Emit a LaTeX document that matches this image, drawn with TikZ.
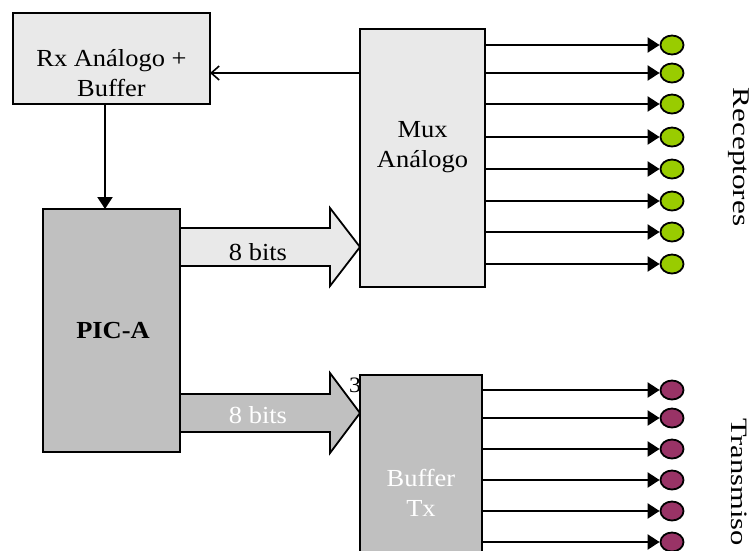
\documentclass[tikz,border=0pt]{standalone}
\usepackage{fontspec}
\setmainfont{Liberation Serif}[FakeStretch=1.08]
\newfontfamily\sidefont{Liberation Serif}[FakeStretch=1.3]
\usetikzlibrary{arrows.meta,shapes.geometric}
\definecolor{lightbox}{HTML}{E9E9E9}
\definecolor{darkbox}{HTML}{C0C0C0}
\definecolor{rxgreen}{HTML}{99CC00}
\definecolor{txpurple}{HTML}{993366}
\begin{document}
\begin{tikzpicture}[x=1pt,y=-1pt,
  box/.style={draw=black, line width=2pt, inner sep=0pt, outer sep=0pt},
  lbl/.style={font=\fontsize{24.5}{30}\selectfont, align=center, inner sep=0pt},
  conn/.style={draw=black, line width=2.2pt},
  blockarrow/.style={draw=black, line width=1.8pt},
  rcirc/.style={ellipse, draw=black, line width=1.8pt, fill=rxgreen, minimum width=23pt, minimum height=19pt, inner sep=0pt},
  tcirc/.style={ellipse, draw=black, line width=1.8pt, fill=txpurple, minimum width=23pt, minimum height=19pt, inner sep=0pt},
  tip/.style={-{Triangle[length=12pt,width=15pt]}}
]
\path[use as bounding box] (0,0) rectangle (755,550);
\clip (0,0) rectangle (755,550);

% block arrows
\draw[blockarrow, fill=lightbox] (180,228) -- (330,228) -- (330,208) -- (360,247) -- (330,286) -- (330,266) -- (180,266) -- cycle;
\draw[blockarrow, fill=darkbox] (180,394) -- (330,394) -- (330,373) -- (360,413) -- (330,453) -- (330,432) -- (180,432) -- cycle;
\node[lbl] (b1) at (258,252) {8 bits};
\node[lbl, text=white] (b2) at (258,415) {8 bits};
\node[font=\fontsize{22}{26}\selectfont, inner sep=0pt] (three) at (355,385) {3};

% boxes
\node[box, fill=lightbox, minimum width=197pt, minimum height=91pt] (rx) at (111.5,58.5) {};
\node[lbl] (rxt) at (111.5,73) {Rx Análogo +\\Buffer};
\node[box, fill=lightbox, minimum width=125pt, minimum height=258pt] (mux) at (422.5,158) {};
\node[lbl] (muxt) at (422.5,147) {Mux\\Análogo};
\node[box, fill=darkbox, minimum width=137pt, minimum height=243pt] (pic) at (111.5,330.5) {};
\node[lbl, font=\fontsize{24.5}{30}\selectfont\bfseries] (pict) at (113,330) {PIC-A};
\node[box, fill=darkbox, minimum width=122pt, minimum height=225pt] (buf) at (421,487.5) {};
\node[lbl, text=white] (buft) at (421,493) {Buffer\\Tx};

% connectors
\coordinate (a1) at (0,73);
\coordinate (a2) at (105,0);
\draw[conn, -{Straight Barb[length=8pt,width=14pt,line width=1.6pt]}] (mux.west |- a1) -- (rx.east |- a1);
\draw[conn, tip] (rx.south -| a2) -- (pic.north -| a2);

% receptors
\foreach \i/\y in {1/45,2/73,3/104,4/137,5/169,6/201,7/232,8/264}{
  \node[rcirc] (r\i) at (672,\y) {};
  \draw[conn, tip] (mux.east |- r\i) -- (r\i.west);
}
% transmitters
\foreach \i/\y in {1/390,2/418,3/449,4/480,5/511,6/542}{
  \node[tcirc] (t\i) at (672,\y) {};
  \draw[conn, tip] (buf.east |- t\i) -- (t\i.west);
}

\node[rotate=-90, inner sep=0pt, font=\fontsize{24}{28}\sidefont] (rec) at (739,157) {Receptores};
\node[rotate=-90, anchor=west, inner sep=0pt, font=\fontsize{23.5}{28}\sidefont] (tra) at (739,418) {Transmiso};
\end{tikzpicture}
\end{document}
